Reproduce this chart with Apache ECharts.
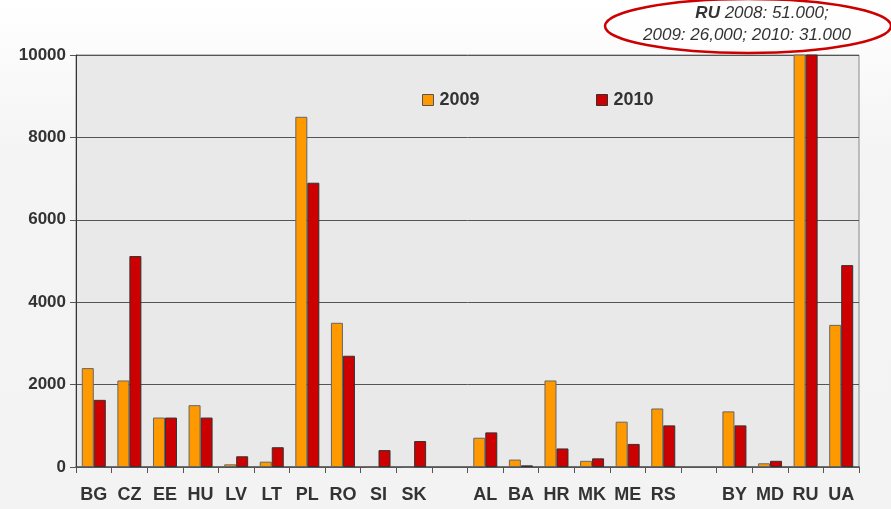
<!DOCTYPE html>
<html>
<head>
<meta charset="utf-8">
<script src="https://cdn.jsdelivr.net/npm/echarts@6/dist/echarts.min.js"></script>
<style>
  html, body { margin: 0; padding: 0; }
  #chart { width: 891px; height: 509px; }
</style>
</head>
<body>
<div id="chart"></div>
<script>
// 国家 (空字符串为分组间隔)
var categories = ['BG', 'CZ', 'EE', 'HU', 'LV', 'LT', 'PL', 'RO', 'SI', 'SK', '',
  'AL', 'BA', 'HR', 'MK', 'ME', 'RS', '', 'BY', 'MD', 'RU', 'UA']
// 2009 数值
var data2009 = [2400, 2100, 1200, 1500, 65, 130, 8500, 3500, 0, 0, null,
  710, 180, 2100, 150, 1100, 1420, null, 1350, 90, 26000, 3450]
// 2010 数值
var data2010 = [1630, 5120, 1200, 1200, 260, 480, 6900, 2700, 410, 630, null,
  840, 40, 450, 210, 560, 1010, null, 1010, 150, 31000, 4900]
// y轴刻度
var yTicks = [0, 2000, 4000, 6000, 8000, 10000]

var chart = echarts.init(document.getElementById('chart'))
var font = '"Liberation Sans", Arial, sans-serif'

chart.setOption({
  animation: false,
  backgroundColor: {
    type: 'linear', x: 0, y: 0, x2: 0, y2: 1,
    colorStops: [
      { offset: 0, color: '#ffffff' },
      { offset: 0.3, color: '#f4f4f4' },
      { offset: 1, color: '#f3f3f3' }
    ]
  },
  textStyle: { fontFamily: font },
  // 图例
  legend: [
    {
      data: ['2009'], left: 417, top: 86, icon: 'rect', itemWidth: 11, itemHeight: 11, itemGap: 0,
      itemStyle: { borderColor: '#555', borderWidth: 1 },
      textStyle: { fontSize: 18, fontWeight: 'bold', color: '#333', padding: [0, 0, 0, 1] }
    },
    {
      data: ['2010'], left: 591, top: 86, icon: 'rect', itemWidth: 11, itemHeight: 11, itemGap: 0,
      itemStyle: { borderColor: '#333', borderWidth: 1 },
      textStyle: { fontSize: 18, fontWeight: 'bold', color: '#333', padding: [0, 0, 0, 1] }
    }
  ],
  grid: {
    left: 76, right: 32, top: 55, bottom: 42,
    show: true, backgroundColor: '#e9e9e9', borderColor: '#888', borderWidth: 1
  },
  xAxis: {
    type: 'category',
    data: categories,
    axisLine: { lineStyle: { color: '#555', width: 1.5 } },
    axisTick: { show: true, length: 6, interval: 0, lineStyle: { color: '#555' } },
    axisLabel: {
      interval: 0, margin: 19, fontSize: 18, fontWeight: 'bold', color: '#333', fontFamily: font
    }
  },
  yAxis: {
    type: 'value',
    min: yTicks[0],
    max: yTicks[yTicks.length - 1],
    interval: 2000,
    axisLine: { show: true, lineStyle: { color: '#333' } },
    axisTick: { show: true, length: 6, lineStyle: { color: '#555' } },
    splitLine: { lineStyle: { color: '#555', width: 1 } },
    axisLabel: {
      margin: 10, fontSize: 17, fontWeight: 'bold', color: '#333', fontFamily: font,
      formatter: function (v) { return String(v) }
    }
  },
  series: [
    {
      name: '2009', type: 'bar', data: data2009, barWidth: 12, barGap: '0%',
      itemStyle: { color: '#ff9900', borderColor: '#666', borderWidth: 1 }
    },
    {
      name: '2010', type: 'bar', data: data2010, barWidth: 12,
      itemStyle: { color: '#cc0000', borderColor: '#333', borderWidth: 1 }
    }
  ],
  // RU 注释
  graphic: [
    {
      type: 'ellipse',
      shape: { cx: 748, cy: 26, rx: 143, ry: 27 },
      style: { fill: 'rgba(255,255,255,0.5)', stroke: '#cc0000', lineWidth: 2.5 },
      z: 100
    },
    {
      type: 'text', x: 762, y: 13, z: 101,
      style: {
        text: '{b|RU} 2008: 51.000;',
        align: 'center', verticalAlign: 'middle',
        fontSize: 17, fontStyle: 'italic', fontFamily: font, fill: '#333',
        rich: { b: { fontWeight: 'bold', fontStyle: 'italic', fontSize: 17, fontFamily: font, fill: '#333' } }
      }
    },
    {
      type: 'text', x: 747, y: 35, z: 101,
      style: {
        text: '2009: 26,000; 2010: 31.000',
        align: 'center', verticalAlign: 'middle',
        fontSize: 17, fontStyle: 'italic', fontFamily: font, fill: '#333'
      }
    }
  ]
})
</script>
</body>
</html>
